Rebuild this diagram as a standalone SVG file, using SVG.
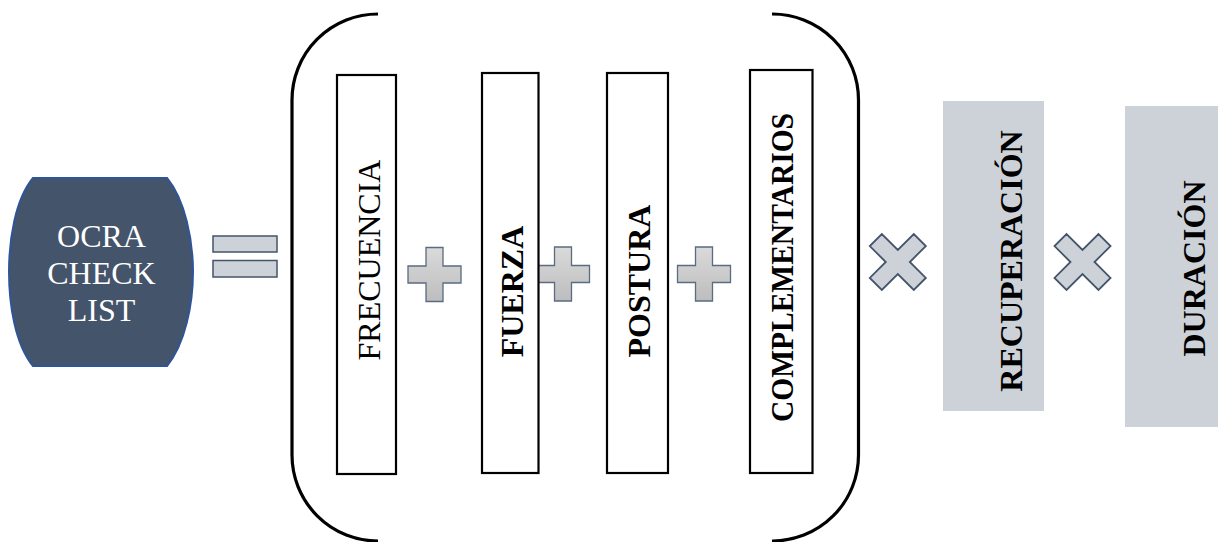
<svg xmlns="http://www.w3.org/2000/svg" width="1218" height="542" viewBox="0 0 1218 542">
  <style>
    .lbl { font-family: "Liberation Serif", "Times New Roman", serif; font-size: 32px; fill: #000; text-anchor: middle; }
    .bold { font-weight: bold; }
    .factor { fill: #fff; stroke: #000; stroke-width: 2.2; }
    .greybox { fill: #CDD2D8; }
    .bracket { fill: none; stroke: #000; stroke-width: 3.2; stroke-linecap: butt; }
    .plus { fill: url(#plusGrad); stroke: #5A6B82; stroke-width: 1.3; }
    .times { fill: #CDD2D8; stroke: #44546A; stroke-width: 1.8; }
    .eq { fill: #CDD2D8; stroke: #44546A; stroke-width: 1.5; }
  </style>
  <defs>
    <linearGradient id="plusGrad" x1="0" y1="0" x2="0" y2="1">
      <stop offset="0" stop-color="#DADADA"/>
      <stop offset="1" stop-color="#BDBDBD"/>
    </linearGradient>
    <!-- plus sign centred on the origin -->
    <path id="plusShape" d="M -8.5 -27 H 8.5 V -8.5 H 26.5 V 8.5 H 8.5 V 27 H -8.5 V 8.5 H -26.5 V -8.5 H -8.5 Z"/>
    <!-- multiplication sign centred on the origin -->
    <polygon id="timesShape" points="28,-15.98 12.02,0 28,15.98 15.98,28 0,12.02 -15.98,28 -28,15.98 -12.02,0 -28,-15.98 -15.98,-28 0,-12.02 15.98,-28"/>
  </defs>

  <rect width="1218" height="542" fill="#fff"/>

  <!-- result node -->
  <g id="ocra">
    <path d="M 33 178 L 167 178 C 185 200 193 240 193 272 C 193 304 185 344 167 366 L 33 366 C 15 344 9 304 9 272 C 9 240 15 200 33 178 Z" fill="#44546A" stroke="#2F5597" stroke-width="2"/>
    <text class="lbl" x="101.5" y="247" style="fill:#fff">OCRA</text>
    <text class="lbl" x="101.5" y="284" style="fill:#fff">CHECK</text>
    <text class="lbl" x="101.5" y="321" style="fill:#fff">LIST</text>
  </g>

  <!-- operators between the factors -->
  <g id="operators">
    <rect class="eq" x="213" y="236" width="64" height="16"/>
    <rect class="eq" x="213" y="260.5" width="64" height="16.5"/>
    <use href="#plusShape" class="plus" x="434.5" y="274.5"/>
    <use href="#plusShape" class="plus" x="563" y="274"/>
    <use href="#plusShape" class="plus" x="704" y="274"/>
    <use href="#timesShape" class="times" x="897.8" y="262"/>
    <use href="#timesShape" class="times" x="1082.5" y="262"/>
  </g>

  <!-- parentheses around the sum -->
  <g id="brackets">
    <path class="bracket" d="M 378 14 A 86 86 0 0 0 292 100 L 292 455 A 86 86 0 0 0 378 541"/>
    <path class="bracket" d="M 772 14 A 86 86 0 0 1 858.5 100 L 858.5 455 A 86 86 0 0 1 772 541"/>
  </g>

  <g id="frecuencia">
    <rect class="factor" x="337" y="75" width="59" height="399"/>
    <text class="lbl" transform="translate(380 260) rotate(-90)">FRECUENCIA</text>
  </g>

  <g id="fuerza">
    <rect class="factor" x="482" y="73" width="56.5" height="400"/>
    <text class="lbl bold" transform="translate(523 291.5) rotate(-90)">FUERZA</text>
  </g>

  <g id="postura">
    <rect class="factor" x="607" y="73" width="61" height="400"/>
    <text class="lbl bold" transform="translate(650 281) rotate(-90)">POSTURA</text>
  </g>

  <g id="complementarios">
    <rect class="factor" x="750" y="70" width="62.5" height="403"/>
    <text class="lbl bold" transform="translate(793 267.5) rotate(-90)" textLength="309" lengthAdjust="spacingAndGlyphs">COMPLEMENTARIOS</text>
  </g>

  <g id="recuperacion">
    <rect class="greybox" x="943" y="101" width="101" height="310"/>
    <text class="lbl bold" transform="translate(1021.5 261) rotate(-90)">RECUPERACIÓN</text>
  </g>

  <g id="duracion">
    <rect class="greybox" x="1125" y="106" width="93" height="321"/>
    <text class="lbl bold" transform="translate(1205 268.5) rotate(-90)">DURACIÓN</text>
  </g>
</svg>
